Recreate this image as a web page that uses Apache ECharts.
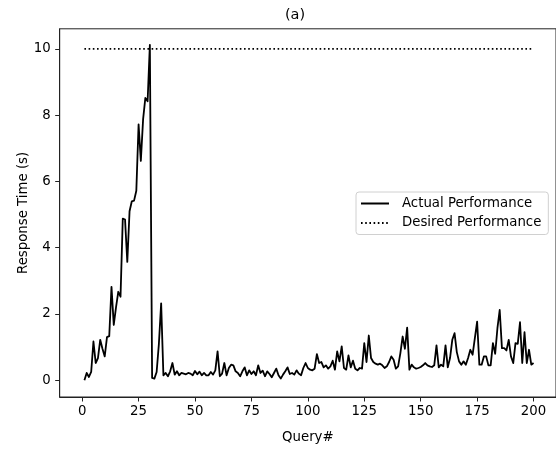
<!DOCTYPE html>
<html>
<head>
<meta charset="utf-8">
<script src="https://cdn.jsdelivr.net/npm/echarts@6/dist/echarts.min.js"></script>
<style>html,body{margin:0;padding:0;background:#fff;}#chart{width:556px;height:449px;}</style>
</head>
<body>
<div id="chart"></div>
<script>
// Response time for each query (query numbers 1..200)
const responseTimes = [
  0.00, 0.22, 0.10, 0.25, 1.17, 0.52, 0.67, 1.22, 0.95, 0.72,
  1.30, 1.33, 2.82, 1.67, 2.20, 2.67, 2.52, 4.88, 4.85, 3.57,
  5.10, 5.40, 5.42, 5.72, 7.72, 6.62, 7.87, 8.52, 8.42, 10.12,
  0.07, 0.05, 0.25, 1.10, 2.32, 0.15, 0.22, 0.12, 0.27, 0.52,
  0.17, 0.27, 0.15, 0.22, 0.20, 0.18, 0.22, 0.20, 0.15, 0.28,
  0.18, 0.26, 0.15, 0.22, 0.15, 0.15, 0.25, 0.17, 0.30, 0.87,
  0.12, 0.20, 0.52, 0.15, 0.37, 0.47, 0.45, 0.27, 0.22, 0.12,
  0.27, 0.39, 0.15, 0.30, 0.19, 0.27, 0.15, 0.45, 0.22, 0.29,
  0.12, 0.27, 0.19, 0.09, 0.22, 0.35, 0.15, 0.05, 0.17, 0.27,
  0.39, 0.19, 0.22, 0.17, 0.30, 0.20, 0.15, 0.37, 0.52, 0.37,
  0.32, 0.30, 0.35, 0.79, 0.52, 0.55, 0.39, 0.45, 0.35, 0.42,
  0.59, 0.32, 0.87, 0.57, 1.02, 0.37, 0.32, 0.75, 0.39, 0.59,
  0.35, 0.30, 0.37, 0.35, 1.12, 0.55, 1.35, 0.67, 0.55, 0.50,
  0.47, 0.50, 0.45, 0.37, 0.42, 0.55, 0.72, 0.62, 0.35, 0.42,
  0.82, 1.32, 0.95, 1.59, 0.32, 0.47, 0.39, 0.35, 0.37, 0.40,
  0.45, 0.52, 0.45, 0.42, 0.40, 0.45, 1.05, 0.39, 0.47, 0.42,
  1.05, 0.39, 0.67, 1.22, 1.42, 0.85, 0.57, 0.47, 0.57, 0.47,
  0.67, 0.92, 0.77, 1.27, 1.77, 0.47, 0.47, 0.72, 0.72, 0.45,
  0.45, 1.12, 0.80, 1.57, 2.12, 0.97, 0.97, 0.90, 1.22, 0.72,
  0.52, 1.12, 1.10, 1.75, 0.52, 1.45, 0.52, 0.92, 0.47, 0.52
];
const firstQuery = 1;
const desiredValue = 10;
const desiredRange = [1, 200];
const xTicks = [0, 25, 50, 75, 100, 125, 150, 175, 200];
const yTicks = [0, 2, 4, 6, 8, 10];
const seriesNames = ['Actual Performance', 'Desired Performance'];

const actualData = responseTimes.map((v, i) => [firstQuery + i, v]);
const desiredData = desiredRange.map(x => [x, desiredValue]);

const FONT = 'DejaVu Sans';
const FS = 13.3;
const chart = echarts.init(document.getElementById('chart'), null, {renderer: 'canvas'});
chart.setOption({
  animation: false,
  backgroundColor: '#fff',
  title: {
    text: '(a)', left: 290, top: 3, textAlign: 'center',
    textStyle: {fontFamily: FONT, fontSize: 14.5, fontWeight: 'normal', color: '#000'}
  },
  grid: {left: 59.7, top: 28.8, width: 498.9, height: 370.3, show: true, borderColor: '#222', borderWidth: 1, backgroundColor: 'transparent'},
  legend: {
    orient: 'vertical', left: 356, top: 192,
    data: seriesNames,
    itemWidth: 28, itemHeight: 14, itemGap: 6.5,
    padding: [5, 7, 5, 4],
    borderColor: '#d0d0d0', borderWidth: 1, borderRadius: 3,
    backgroundColor: 'rgba(255,255,255,0.8)',
    itemStyle: {opacity: 0},
    textStyle: {fontFamily: FONT, fontSize: FS, color: '#000', padding: [0, 0, 0, 8]}
  },
  xAxis: {
    type: 'value', min: -9.95, max: 209.95,
    name: 'Query#', nameLocation: 'middle', nameGap: 34,
    nameTextStyle: {fontFamily: FONT, fontSize: FS, color: '#000'},
    axisLine: {show: true, onZero: false, lineStyle: {color: '#222', width: 1}},
    axisTick: {show: true, inside: false, length: 4.5, lineStyle: {color: '#222'}, customValues: xTicks},
    axisLabel: {fontFamily: FONT, fontSize: FS, color: '#000', margin: 8, customValues: xTicks},
    splitLine: {show: false}
  },
  yAxis: {
    type: 'value', min: -0.505, max: 10.605,
    name: 'Response Time (s)', nameLocation: 'middle', nameGap: 30, nameRotate: 90,
    nameMoveOverlap: false,
    nameTextStyle: {fontFamily: FONT, fontSize: FS, color: '#000'},
    axisLine: {show: true, onZero: false, lineStyle: {color: '#222', width: 1}},
    axisTick: {show: true, inside: false, length: 4.5, lineStyle: {color: '#222'}, customValues: yTicks},
    axisLabel: {fontFamily: FONT, fontSize: FS, color: '#000', margin: 9, customValues: yTicks},
    splitLine: {show: false}
  },
  series: [
    {
      name: seriesNames[0], type: 'line', data: actualData,
      showSymbol: false, symbol: 'none',
      lineStyle: {color: '#000', width: 1.8, join: 'round'},
      itemStyle: {color: '#000'}
    },
    {
      name: seriesNames[1], type: 'line', data: desiredData,
      showSymbol: false, symbol: 'none',
      lineStyle: {color: '#000', width: 1.8, type: [1.6, 2.6], cap: 'butt'},
      itemStyle: {color: '#000'}
    }
  ]
});
</script>
</body>
</html>
